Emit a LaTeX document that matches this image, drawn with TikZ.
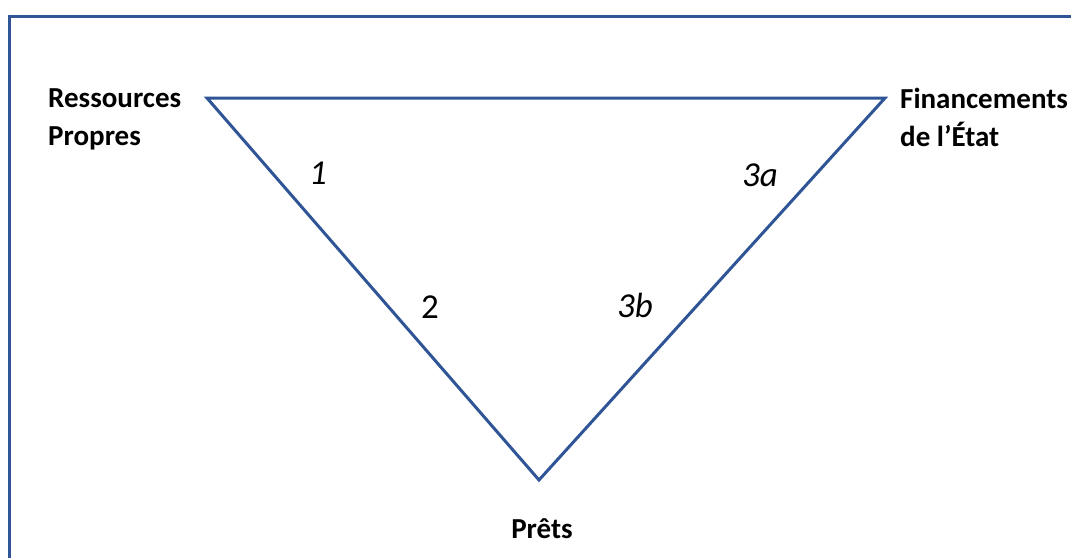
\documentclass[tikz,border=0pt]{standalone}
\usepackage{fontspec}
\setmainfont{Carlito}
\definecolor{lineblue}{RGB}{47,85,151}
\begin{document}
\begin{tikzpicture}[x=1pt,y=-1pt,
  frame/.style={draw=lineblue,line width=3pt},
  edge/.style={draw=lineblue,line width=3pt,line join=miter},
  vlabel/.style={inner sep=0pt,font=\bfseries\fontsize{29}{38}\selectfont,align=left,anchor=base west},
  num/.style={inner sep=0pt,font=\itshape\fontsize{35}{40}\selectfont,anchor=base},
  numup/.style={inner sep=0pt,font=\fontsize{35}{40}\selectfont,anchor=base}]
\useasboundingbox[fill=white] (0,0) rectangle (1071,558);
\coordinate (frTR) at (1071,16);
\coordinate (frTL) at (9,16);
\coordinate (frBL) at (9,558);
\draw[frame] (frTR) -- (frTL) -- (frBL);
\coordinate (A) at (207,98);
\coordinate (B) at (885,98);
\coordinate (C) at (539,480);
\draw[edge] (A) -- (B) -- (C) -- cycle;
\node[vlabel] (rp) at (48,145) {Ressources\\Propres};
\node[vlabel] (fe) at (900,146) {Financements\\de l’État};
\node[vlabel,anchor=base] (pr) at (542,538) {Prêts};
\node[num] (n1) at (318,184) {1};
\node[numup] (n2) at (430,318) {2};
\node[num] (n3a) at (760,186) {3a};
\node[num] (n3b) at (635,317) {3b};
\end{tikzpicture}
\end{document}
